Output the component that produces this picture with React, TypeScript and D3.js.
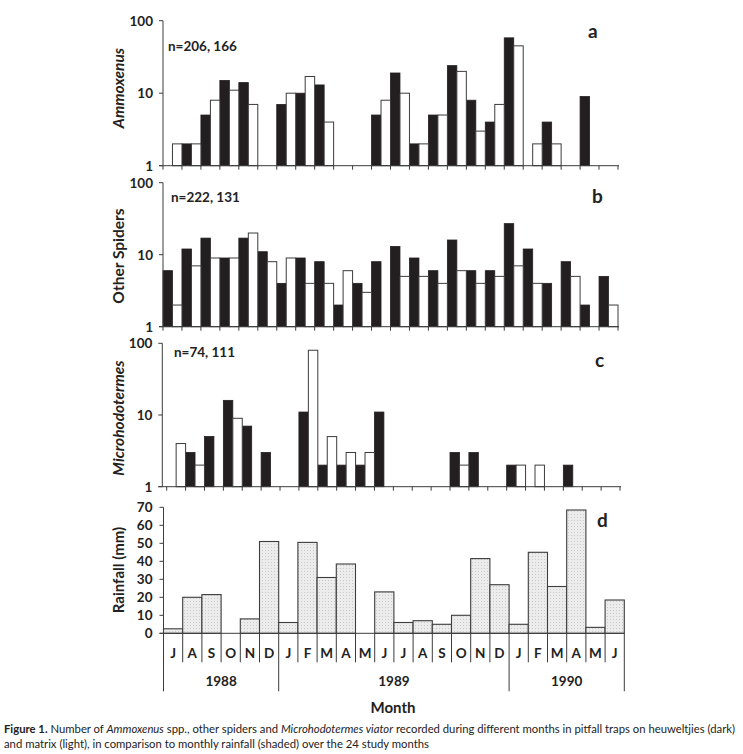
import * as React from 'react';
import * as d3 from 'd3';

// months Jul 1988 - Jun 1990
const months = ['J', 'A', 'S', 'O', 'N', 'D', 'J', 'F', 'M', 'A', 'M', 'J', 'J', 'A', 'S', 'O', 'N', 'D', 'J', 'F', 'M', 'A', 'M', 'J'];
const years = ['1988', '1989', '1990'];
const yearSpans = [6, 12, 6];

// counts, dark = heuweltjies, light = matrix (0 = nothing drawn)
const ammoxenusDark = [0, 2, 5, 15, 14, 0, 7, 10, 13, 0, 0, 5, 19, 2, 5, 24, 8, 4, 58, 0, 4, 0, 9, 0];
const ammoxenusLight = [2, 2, 8, 11, 7, 0, 10, 17, 4, 0, 0, 8, 10, 2, 5, 20, 3, 7, 45, 2, 2, 0, 0, 0];
const spidersDark = [6, 12, 17, 9, 17, 11, 4, 9, 8, 2, 4, 8, 13, 9, 6, 16, 6, 6, 27, 12, 4, 8, 2, 5];
const spidersLight = [2, 7, 9, 9, 20, 8, 9, 4, 4, 6, 3, 0, 5, 5, 4, 6, 4, 5, 7, 4, 0, 5, 0, 2];
const termitesDark = [0, 3, 5, 16, 7, 3, 0, 11, 2, 2, 2, 11, 0, 0, 0, 3, 3, 0, 2, 0, 0, 2, 0, 0];
const termitesLight = [4, 2, 0, 9, 0, 0, 0, 80, 5, 3, 3, 0, 0, 0, 0, 2, 0, 0, 2, 2, 0, 0, 0, 0];

// rainfall (mm)
const rainfall = [2.5, 20, 21.5, 0, 8, 51, 6, 50.5, 31, 38.5, 0, 23, 6, 7, 5, 10, 41.5, 27, 5, 45, 26, 68.5, 3.3, 18.5];
const rainTicks = [0, 10, 20, 30, 40, 50, 60, 70];
const logTicks = [1, 10, 100];

const FONT = 'Lato, "Open Sans", sans-serif';
const DARK = '#231f20';
const LINE = '#3c3c3c';

type LogPanelProps = {
  dark: number[];
  light: number[];
  top: number;
  bottom: number;
  x0: number;
  x1: number;
  axisX: number;
  title: string;
  italic: boolean;
  titleY: number;
  nLabel: string;
  nX: number;
  nY: number;
  letter: string;
  letterX: number;
  letterY: number;
};

const LogPanel = (p: LogPanelProps) => {
  const x = d3.scaleBand<number>().domain(d3.range(months.length)).range([p.x0, p.x1]).padding(0);
  const y = d3.scaleLog().domain([1, 100]).range([p.bottom, p.top]);
  const half = x.bandwidth() / 2;

  return (
    <g>
      {p.dark.map((v, i) => v > 1 ? (
        <rect key={'d' + i} x={x(i)!} y={y(v)} width={half} height={y(1) - y(v)}
          fill={DARK} stroke={DARK} strokeWidth={0.8} />
      ) : null)}
      {p.light.map((v, i) => v > 1 ? (
        <rect key={'l' + i} x={x(i)! + half} y={y(v)} width={half} height={y(1) - y(v)}
          fill="#fff" stroke={LINE} strokeWidth={1} />
      ) : null)}
      {/* axes */}
      <line x1={p.axisX} x2={p.axisX} y1={p.top} y2={p.bottom} stroke={LINE} strokeWidth={1} />
      <line x1={p.axisX - 4} x2={p.x1 + 1} y1={p.bottom} y2={p.bottom} stroke={LINE} strokeWidth={1} />
      {logTicks.map(t => (
        <g key={t}>
          <line x1={p.axisX - 4} x2={p.axisX} y1={y(t)} y2={y(t)} stroke={LINE} />
          <text x={p.axisX - 10} y={y(t) + 4.8} textAnchor="end" fontFamily={FONT}
            fontWeight="bold" fontSize={13.5} fill="#222">{t}</text>
        </g>
      ))}
      {d3.range(months.length + 1).map(i => {
        const tx = i < months.length ? x(i)! : p.x1;
        return <line key={'t' + i} x1={tx} x2={tx} y1={p.bottom} y2={p.bottom + 4} stroke={LINE} />;
      })}
      <text transform={`translate(124,${p.titleY}) rotate(-90)`} textAnchor="middle"
        fontFamily={FONT} fontWeight="bold" fontStyle={p.italic ? 'italic' : 'normal'}
        fontSize={15.5} fill="#222">{p.title}</text>
      <text x={p.nX} y={p.nY} fontFamily={FONT} fontWeight="bold" fontSize={13.5} fill="#222">{p.nLabel}</text>
      <text x={p.letterX} y={p.letterY} fontFamily={FONT} fontWeight="bold" fontSize={19} fill="#222">{p.letter}</text>
    </g>
  );
};

const RainPanel = () => {
  const x0 = 163.5;
  const x1 = 624.3;
  const top = 507.3;
  const bottom = 633.3;
  const x = d3.scaleBand<number>().domain(d3.range(months.length)).range([x0, x1]).padding(0);
  const y = d3.scaleLinear().domain([0, 70]).range([bottom, top]);
  const bw = x.bandwidth();

  // year boundaries
  const bounds: number[] = [0];
  yearSpans.forEach((s, i) => bounds.push(bounds[i] + s));

  return (
    <g>
      <defs>
        <pattern id="dots" width={3} height={3} patternUnits="userSpaceOnUse">
          <rect width={3} height={3} fill="#ececec" />
          <rect x={1} y={1} width={1} height={1} fill="#c9c9c9" />
        </pattern>
      </defs>
      {rainfall.map((v, i) => v > 0 ? (
        <rect key={i} x={x(i)!} y={y(v)} width={bw} height={bottom - y(v)}
          fill="url(#dots)" stroke={LINE} strokeWidth={1.1} />
      ) : null)}
      <line x1={x0} x2={x0} y1={top} y2={bottom + 58} stroke={LINE} />
      <line x1={x0 - 4} x2={x1} y1={bottom} y2={bottom} stroke={LINE} />
      {rainTicks.map(t => (
        <g key={t}>
          <line x1={x0 - 4} x2={x0} y1={y(t)} y2={y(t)} stroke={LINE} />
          <text x={x0 - 11} y={y(t) + 4.8} textAnchor="end" fontFamily={FONT}
            fontWeight="bold" fontSize={13.5} fill="#222">{t}</text>
        </g>
      ))}
      {/* month separators */}
      {d3.range(1, months.length + 1).map(i => {
        const tx = i < months.length ? x(i)! : x1;
        const long = bounds.includes(i);
        return <line key={'s' + i} x1={tx} x2={tx} y1={bottom} y2={long ? bottom + 58 : bottom + 29} stroke={LINE} />;
      })}
      {months.map((m, i) => (
        <text key={'m' + i} x={x(i)! + bw / 2} y={bottom + 24.5} textAnchor="middle"
          fontFamily={FONT} fontWeight="bold" fontSize={13.5} fill="#222">{m}</text>
      ))}
      {years.map((yr, i) => {
        const a = x(bounds[i])!;
        const b = bounds[i + 1] < months.length ? x(bounds[i + 1])! : x1;
        return <text key={yr} x={(a + b) / 2} y={bottom + 52.5} textAnchor="middle"
          fontFamily={FONT} fontWeight="bold" fontSize={13.5} fill="#222">{yr}</text>;
      })}
      <text transform={`translate(124,570) rotate(-90)`} textAnchor="middle"
        fontFamily={FONT} fontWeight="bold" fontSize={15} fill="#222">Rainfall (mm)</text>
      <text x={597} y={527.3} fontFamily={FONT} fontWeight="bold" fontSize={19} fill="#222">d</text>
      <text x={393} y={713} textAnchor="middle" fontFamily={FONT} fontWeight="bold"
        fontSize={15} fill="#222">Month</text>
    </g>
  );
};

const App = () => {
  return (
    <svg width={743} height={754} style={{ position: 'absolute', left: 0, top: 0, background: '#fff' }}>
      <rect width={743} height={754} fill="#fff" />
      <LogPanel dark={ammoxenusDark} light={ammoxenusLight} top={20.7} bottom={165.7} x0={163} x1={618}
        axisX={163} title="Ammoxenus" italic titleY={88} nLabel="n=206, 166" nX={168} nY={50.7}
        letter="a" letterX={588} letterY={38.3} />
      <LogPanel dark={spidersDark} light={spidersLight} top={182.7} bottom={326.7} x0={163} x1={618}
        axisX={163} title="Other Spiders" italic={false} titleY={256} nLabel="n=222, 131" nX={171} nY={202.3}
        letter="b" letterX={592} letterY={203.3} />
      <LogPanel dark={termitesDark} light={termitesLight} top={343.3} bottom={486.7} x0={166.7} x1={620}
        axisX={162.3} title="Microhodotermes" italic titleY={418} nLabel="n=74, 111" nX={174} nY={357.3}
        letter="c" letterX={595} letterY={367.3} />
      <RainPanel />
      <text x={4} y={732.7} fontFamily={FONT} fontSize={11.5} fill="#222" textLength={731} lengthAdjust="spacingAndGlyphs">
        <tspan fontWeight="bold">Figure 1.</tspan> Number of <tspan fontStyle="italic">Ammoxenus</tspan> spp., other spiders and <tspan fontStyle="italic">Microhodotermes viator</tspan> recorded during different months in pitfall traps on heuweltjies (dark)
      </text>
      <text x={4} y={747.5} fontFamily={FONT} fontSize={11.5} fill="#222" textLength={425} lengthAdjust="spacingAndGlyphs">
        and matrix (light), in comparison to monthly rainfall (shaded) over the 24 study months
      </text>
    </svg>
  );
};

export default App;
